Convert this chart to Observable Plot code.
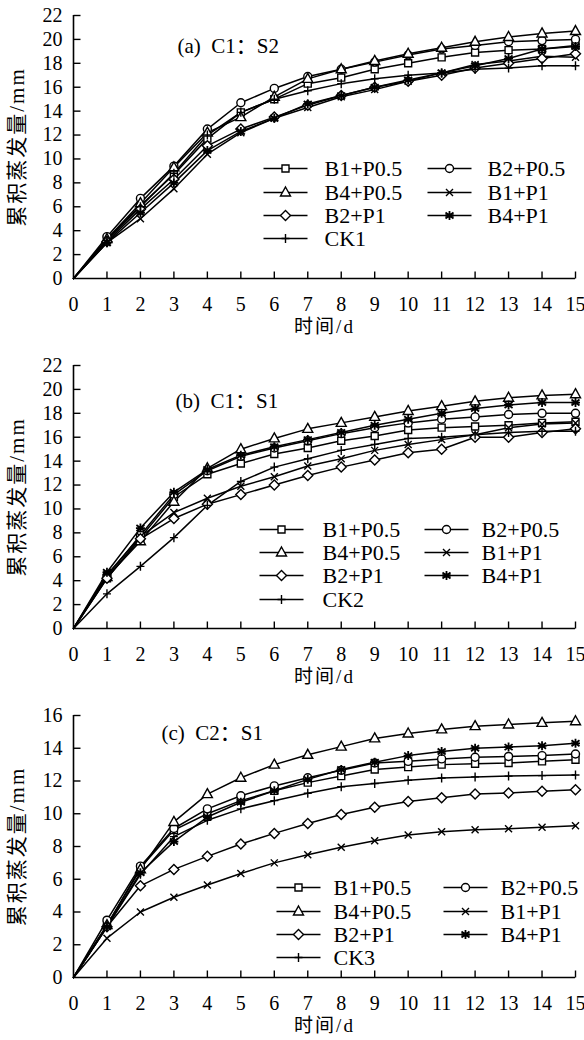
<!DOCTYPE html>
<html><head><meta charset="utf-8">
<script src="https://cdn.jsdelivr.net/npm/d3@7"></script>
<script src="https://cdn.jsdelivr.net/npm/@observablehq/plot@0.6"></script>
<style>
html,body{margin:0;padding:0;background:#fff;}
#chart svg{display:block;}
</style></head><body><div id="chart"></div>
<script>
const days = [0,1,2,3,4,5,6,7,8,9,10,11,12,13,14,15];
const xTicks = [0,1,2,3,4,5,6,7,8,9,10,11,12,13,14,15];
const yTicksAB = [0,2,4,6,8,10,12,14,16,18,20,22];
const yTicksC = [0,2,4,6,8,10,12,14,16];
const seriesLabels = ["B1+P0.5","B2+P0.5","B4+P0.5","B1+P1","B2+P1","B4+P1"];
const ckLabels = ["CK1","CK2","CK3"];
const panelTitles = ["(a)\u00a0\u00a0C1：S2","(b)\u00a0\u00a0C1：S1","(c)\u00a0\u00a0C2：S1"];
const xTitle = "时间/d";
const yTitle = "累积蒸发量/mm";

// Panel (a) C1:S2
const a_B1P05 = [0,3.3,6.1,8.7,11.7,13.9,15.0,16.3,16.8,17.5,18.0,18.5,18.9,19.1,19.2,19.5];
const a_B2P05 = [0,3.5,6.7,9.4,12.5,14.7,15.9,16.9,17.5,18.1,18.7,19.2,19.5,19.8,19.9,20.0];
const a_B4P05 = [0,3.3,6.3,9.3,12.2,13.5,15.2,16.7,17.5,18.2,18.8,19.3,19.8,20.2,20.5,20.7];
const a_B1P1  = [0,3.0,5.0,7.5,10.4,12.2,13.4,14.3,15.2,15.8,16.5,17.2,17.9,18.2,18.6,18.5];
const a_B2P1  = [0,3.1,5.8,8.3,11.1,12.5,13.5,14.5,15.3,16.0,16.5,17.0,17.6,18.0,18.4,18.8];
const a_B4P1  = [0,3.0,5.5,8.0,10.7,12.3,13.4,14.6,15.3,16.0,16.6,17.2,17.8,18.4,19.2,19.4];
const a_CK1   = [0,3.2,6.0,8.8,12.0,13.9,15.0,15.7,16.3,16.7,17.0,17.2,17.5,17.6,17.8,17.8];

// Panel (b) C1:S1
const b_B1P05 = [0,4.2,7.6,11.0,12.9,13.8,14.6,15.1,15.7,16.1,16.6,16.8,16.9,17.0,17.2,17.3];
const b_B2P05 = [0,4.4,7.8,11.2,13.2,14.4,15.1,15.7,16.3,16.8,17.2,17.5,17.7,17.9,18.0,18.0];
const b_B4P05 = [0,4.3,7.3,10.6,13.4,15.0,15.9,16.7,17.2,17.7,18.2,18.6,19.0,19.3,19.5,19.6];
const b_B1P1  = [0,4.5,7.7,9.7,10.9,11.9,12.7,13.6,14.2,14.9,15.4,15.8,16.2,16.8,17.1,17.2];
const b_B2P1  = [0,4.2,7.5,9.2,10.4,11.2,12.0,12.8,13.5,14.1,14.7,15.0,16.0,16.0,16.4,16.7];
const b_B4P1  = [0,4.7,8.4,11.4,13.3,14.5,15.2,15.8,16.4,17.0,17.5,18.0,18.4,18.7,18.9,18.9];
const b_CK2   = [0,2.9,5.2,7.6,10.3,12.3,13.5,14.2,14.9,15.4,15.9,16.0,16.2,16.4,16.5,16.5];

// Panel (c) C2:S1
const c_B1P05 = [0,3.2,6.7,9.0,10.0,10.8,11.4,11.9,12.3,12.7,12.85,13.0,13.05,13.1,13.2,13.3];
const c_B2P05 = [0,3.5,6.8,9.1,10.3,11.1,11.7,12.2,12.65,13.1,13.2,13.35,13.45,13.5,13.55,13.65];
const c_B4P05 = [0,3.2,6.6,9.5,11.2,12.2,13.0,13.6,14.1,14.6,14.9,15.15,15.35,15.45,15.55,15.65];
const c_B1P1  = [0,2.4,4.0,4.9,5.65,6.35,7.0,7.5,7.95,8.35,8.7,8.9,9.03,9.08,9.17,9.27];
const c_B2P1  = [0,3.1,5.6,6.6,7.4,8.15,8.8,9.4,9.95,10.4,10.75,10.98,11.2,11.27,11.38,11.47];
const c_B4P1  = [0,3.1,6.4,8.3,9.8,10.7,11.4,12.1,12.7,13.15,13.55,13.8,14.0,14.07,14.15,14.3];
const c_CK3   = [0,3.1,6.3,8.6,9.6,10.3,10.8,11.25,11.65,11.85,12.05,12.18,12.25,12.3,12.33,12.37];

// marker shapes
const sym = {
  square: {draw(c){c.moveTo(-3.5,-3.5);c.lineTo(3.5,-3.5);c.lineTo(3.5,3.5);c.lineTo(-3.5,3.5);c.closePath();}},
  circle: {draw(c){c.moveTo(4,0);c.arc(0,0,4,0,2*Math.PI);c.closePath();}},
  triangle: {draw(c){c.moveTo(0,-5.5);c.lineTo(5,3.5);c.lineTo(-5,3.5);c.closePath();}},
  times: {draw(c){c.moveTo(-3.5,-3.5);c.lineTo(3.5,3.5);c.moveTo(-3.5,3.5);c.lineTo(3.5,-3.5);}},
  diamond: {draw(c){c.moveTo(0,-5);c.lineTo(5,0);c.lineTo(0,5);c.lineTo(-5,0);c.closePath();}},
  asterisk: {draw(c){c.moveTo(0,-4.5);c.lineTo(0,4.5);c.moveTo(-4,-3);c.lineTo(4,3);c.moveTo(-4,3);c.lineTo(4,-3);c.moveTo(-4.5,0);c.lineTo(4.5,0);}},
  plus: {draw(c){c.moveTo(0,-4.5);c.lineTo(0,4.5);c.moveTo(-4,0);c.lineTo(4,0);}}
};
const tickUp = {draw(c){c.moveTo(0,0);c.lineTo(0,-7);}};
const tickRight = {draw(c){c.moveTo(0,0);c.lineTo(7,0);}};
const hline = {draw(c){c.moveTo(-22,0);c.lineTo(22,0);}};

const styles = [
  {symbol: sym.square, fill: "white"},
  {symbol: sym.circle, fill: "white"},
  {symbol: sym.triangle, fill: "white"},
  {symbol: sym.times, fill: "none"},
  {symbol: sym.diamond, fill: "white"},
  {symbol: sym.asterisk, fill: "none", sw: 1.8},
  {symbol: sym.plus, fill: "none"}
];

const FONT = "'Liberation Serif', 'Noto Sans CJK SC', serif";

function panel({values, labels, yMax, yTicks, height, marginBottom, title, titleDx, titleDy, leg}) {
  const marks = [];
  // axis lines
  marks.push(Plot.ruleX([0], {x: d => d, stroke: "black", strokeWidth: 1.6}));
  marks.push(Plot.ruleY([0], {y: d => d, stroke: "black", strokeWidth: 1.6}));
  // ticks
  marks.push(Plot.dot(xTicks.slice(1), {x: d => d, frameAnchor: "bottom", symbol: tickUp, stroke: "black", fill: "none", strokeWidth: 1.4}));
  marks.push(Plot.dot(yTicks.slice(1), {y: d => d, frameAnchor: "left", symbol: tickRight, stroke: "black", fill: "none", strokeWidth: 1.4}));
  // tick labels
  marks.push(Plot.text(xTicks, {x: d => d, text: d => String(d), frameAnchor: "bottom", dy: 26, lineAnchor: "middle", textAnchor: "middle", fontSize: 20, fill: "black"}));
  marks.push(Plot.text(yTicks, {y: d => d, text: d => String(d), frameAnchor: "left", dx: -11, textAnchor: "end", lineAnchor: "middle", fontSize: 20, fill: "black"}));
  // axis titles
  marks.push(Plot.text([xTitle], {text: d => d, frameAnchor: "bottom", dy: 48, lineAnchor: "middle", textAnchor: "middle", fontSize: 19, fill: "black"}));
  marks.push(Plot.text([yTitle], {text: d => d, frameAnchor: "left", dx: -56, rotate: -90, lineAnchor: "middle", textAnchor: "middle", fontSize: 21, fill: "black"}));
  // panel title
  marks.push(Plot.text([title], {text: d => d, frameAnchor: "top-left", dx: titleDx, dy: titleDy, textAnchor: "start", lineAnchor: "middle", fontSize: 21, fill: "black"}));
  // lines
  values.forEach((v, k) => {
    marks.push(Plot.line(v, {x: (d, i) => days[i], y: d => d, stroke: "black", strokeWidth: 1.5}));
  });
  // markers
  values.forEach((v, k) => {
    const s = styles[k];
    marks.push(Plot.dot(v, {x: (d, i) => days[i], y: d => d, filter: (d, i) => i > 0, symbol: s.symbol, fill: s.fill, stroke: "black", strokeWidth: s.sw || 1.4}));
  });
  // legend
  labels.forEach((lab, k) => {
    const row = Math.floor(k / 2), col = k % 2;
    const s = styles[k];
    const lx = col === 0 ? leg.lineL : leg.lineR;
    const tx = col === 0 ? leg.textL : leg.textR;
    const ly = leg.rows[row];
    marks.push(Plot.dot([lab], {frameAnchor: "top-left", dx: lx, dy: ly, symbol: hline, stroke: "black", fill: "none", strokeWidth: 1.6}));
    marks.push(Plot.dot([lab], {frameAnchor: "top-left", dx: lx, dy: ly, symbol: s.symbol, stroke: "black", fill: s.fill, strokeWidth: s.sw || 1.4}));
    marks.push(Plot.text([lab], {text: d => d, frameAnchor: "top-left", dx: tx, dy: ly, textAnchor: "start", lineAnchor: "middle", fontSize: 22, fill: "black"}));
  });
  const svg = Plot.plot({
    width: 584, height, marginLeft: 73, marginRight: 9, marginTop: 15, marginBottom,
    x: {domain: [0, 15], axis: null},
    y: {domain: [0, yMax], axis: null},
    style: {fontFamily: FONT, fontSize: "20px", color: "black", background: "white", overflow: "visible"},
    marks
  });
  d3.select(svg).selectAll("text").filter(function() { return /[\u4e00-\u9fff]/.test(this.textContent); })
    .style("letter-spacing", "2px");
  return svg;
}

const root = document.getElementById("chart");
root.appendChild(panel({
  values: [a_B1P05, a_B2P05, a_B4P05, a_B1P1, a_B2P1, a_B4P1, a_CK1],
  labels: [...seriesLabels, ckLabels[0]],
  yMax: 22, yTicks: yTicksAB, height: 350, marginBottom: 72,
  title: panelTitles[0], titleDx: 104, titleDy: 31,
  leg: {rows: [153,177,200,223], lineL: 212, textL: 251, lineR: 376, textR: 414}
}));
root.appendChild(panel({
  values: [b_B1P05, b_B2P05, b_B4P05, b_B1P1, b_B2P1, b_B4P1, b_CK2],
  labels: [...seriesLabels, ckLabels[1]],
  yMax: 22, yTicks: yTicksAB, height: 350, marginBottom: 72,
  title: panelTitles[1], titleDx: 102, titleDy: 36,
  leg: {rows: [164,187,210,234], lineL: 208, textL: 249, lineR: 373, textR: 408}
}));
root.appendChild(panel({
  values: [c_B1P05, c_B2P05, c_B4P05, c_B1P1, c_B2P1, c_B4P1, c_CK3],
  labels: [...seriesLabels, ckLabels[2]],
  yMax: 16, yTicks: yTicksC, height: 340, marginBottom: 63,
  title: panelTitles[2], titleDx: 88, titleDy: 18,
  leg: {rows: [172,196,219,242], lineL: 225, textL: 260, lineR: 392, textR: 427}
}));
</script></body></html>
